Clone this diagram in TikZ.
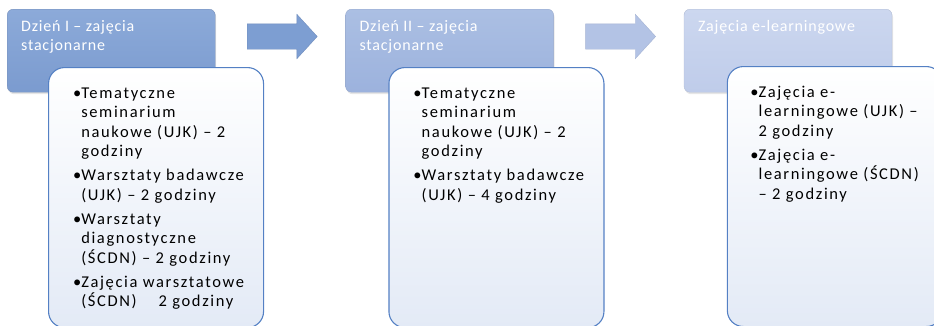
\documentclass[tikz,border=0pt]{standalone}
\usepackage{fontspec}
\usepackage{xcolor}
\usetikzlibrary{shapes.arrows, positioning, calc, shadows}
\setmainfont{Carlito}
\newfontfamily\headfont[LetterSpace=5]{Carlito}
\newfontfamily\bodyfont[LetterSpace=10]{Carlito}
\definecolor{headA}{HTML}{7B9BCF}
\definecolor{headAtop}{HTML}{8CAAD9}
\definecolor{headB}{HTML}{9CB2DD}
\definecolor{headBtop}{HTML}{ABBFE3}
\definecolor{headC}{HTML}{BFCCEA}
\definecolor{headCtop}{HTML}{CCD7EF}
\definecolor{edgeblue}{HTML}{5480C4}
\definecolor{arrowA}{HTML}{7D9ED2}
\definecolor{arrowB}{HTML}{B3C3E5}
\definecolor{paleblue}{HTML}{E3EAF6}
\tikzstyle{header} = [rectangle, rounded corners=6pt, anchor=north west, inner sep=0pt, minimum width=208pt, minimum height=83pt, text=white, drop shadow={opacity=0.2, shadow xshift=1pt, shadow yshift=-2pt}]
\tikzstyle{content} = [rectangle, rounded corners=16pt, anchor=north west, inner sep=0pt, minimum width=215pt, minimum height=260pt, draw=edgeblue, line width=1.1pt, top color=white, bottom color=paleblue]
\tikzstyle{block} = [single arrow, single arrow head extend=9.5pt, single arrow tip angle=95, minimum height=70pt, inner sep=12.5pt]
% tekst naglowka i punktow
\newcommand{\naglowek}[1]{\parbox[t][71pt][t]{194pt}{\headfont\fontsize{16}{19.5}\selectfont\vspace{5pt}#1}}
\newcommand{\tresc}[1]{\parbox[t][240pt][t]{188pt}{\bodyfont\fontsize{16.5}{19.5}\selectfont\vspace{7pt}#1}}
\newcommand{\pkt}[1]{\textbullet\begin{tabular}[t]{@{}l@{}}#1\end{tabular}\par\vspace{3.5pt}}

\begin{document}
\begin{tikzpicture}[x=1pt, y=-1pt]
\useasboundingbox (0,0) rectangle (934,325);

% Naglowki dni
\node (head1) [header, top color=headAtop, bottom color=headA, draw=headA!85!black!90] at (7,9) {\hspace*{14pt}\naglowek{Dzień I – zajęcia\\stacjonarne}};
\node (head2) [header, top color=headBtop, bottom color=headB, draw=headB!90!black!90, right=130pt of head1.north east, anchor=north west] {\hspace*{14pt}\naglowek{Dzień II – zajęcia\\stacjonarne}};
\node (head3) [header, top color=headCtop, bottom color=headC, draw=headC!90!black!90, right=130pt of head2.north east, anchor=north west] {\hspace*{14pt}\naglowek{Zajęcia e-learningowe}};

% Strzalki miedzy naglowkami
\node (arrow1) [block, fill=arrowA, draw=arrowA!90!black] at ($(head1.north east)!0.5!(head2.north west)+(-4,27.5)$) {};
\node (arrow2) [block, fill=arrowB, draw=arrowB!92!black] at ($(head2.north east)!0.5!(head3.north west)+(-4,27.5)$) {};

% Pola z zajeciami
\node (body1) [content] at ($(head1.north west)+(41,58)$) {\hspace*{22pt}\tresc{%
\pkt{Tematyczne\\seminarium\\naukowe (UJK) – 2\\godziny}
\pkt{Warsztaty badawcze\\(UJK) – 2 godziny}
\pkt{Warsztaty\\diagnostyczne\\(ŚCDN) – 2 godziny}
\pkt{Zajęcia warsztatowe\\(ŚCDN) \quad 2 godziny}}};
\node (body2) [content] at ($(head2.north west)+(43,58)$) {\hspace*{22pt}\tresc{%
\pkt{Tematyczne\\seminarium\\naukowe (UJK) – 2\\godziny}
\pkt{Warsztaty badawcze\\(UJK) – 4 godziny}}};
\node (body3) [content] at ($(head3.north west)+(43,57)$) {\hspace*{19pt}\tresc{%
\pkt{Zajęcia e-\\learningowe (UJK) –\\2 godziny}
\pkt{Zajęcia e-\\learningowe (ŚCDN)\\– 2 godziny}}};

\end{tikzpicture}
\end{document}
